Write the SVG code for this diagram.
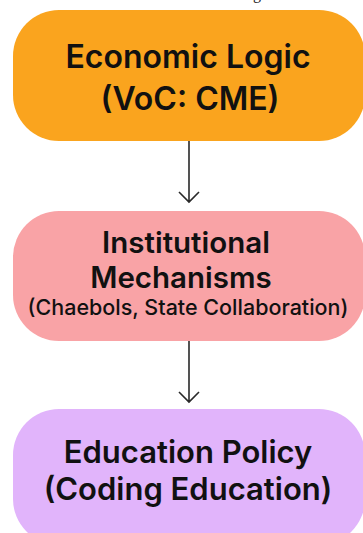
<svg xmlns="http://www.w3.org/2000/svg" width="363" height="533" viewBox="0 0 363 533">
<style>
.t{font-family:Inter,"Noto Sans",sans-serif;font-weight:600;font-size:32px;fill:#111;text-anchor:middle}
.m{font-size:29.5px}
.e{font-size:31px}
.s{font-family:Inter,"Noto Sans",sans-serif;font-weight:500;font-size:21.5px;fill:#111;text-anchor:middle}
.c{stroke:#2a2a2a;stroke-width:1.6;fill:none}
</style>
<rect width="363" height="533" fill="#fff"/>
<text x="253" y="-1" font-family="Liberation Serif,serif" font-size="16" fill="#222">g</text>
<g id="economic">
<rect x="13" y="10" width="352" height="131" rx="46" fill="#FAA41E"/>
<text class="t" x="188" y="68">Economic Logic</text>
<text class="t" x="190" y="110">(VoC: CME)</text>
</g>
<g id="institutional">
<rect x="13" y="211" width="352" height="130" rx="46" fill="#F9A3A6"/>
<text class="t m" x="186" y="253">Institutional</text>
<text class="t m" x="181" y="288">Mechanisms</text>
<text class="s" x="188" y="315">(Chaebols, State Collaboration)</text>
</g>
<g id="education">
<rect x="13" y="409" width="352" height="136" rx="46" fill="#E1B4FB"/>
<text class="t e" x="188" y="463">Education Policy</text>
<text class="t e" x="188" y="500">(Coding Education)</text>
</g>
<g id="connectors">
<path class="c" d="M189 141V202M179 192L189 202L199 192"/>
<path class="c" d="M189 341V402M179 392L189 402L199 392"/>
</g>
</svg>
